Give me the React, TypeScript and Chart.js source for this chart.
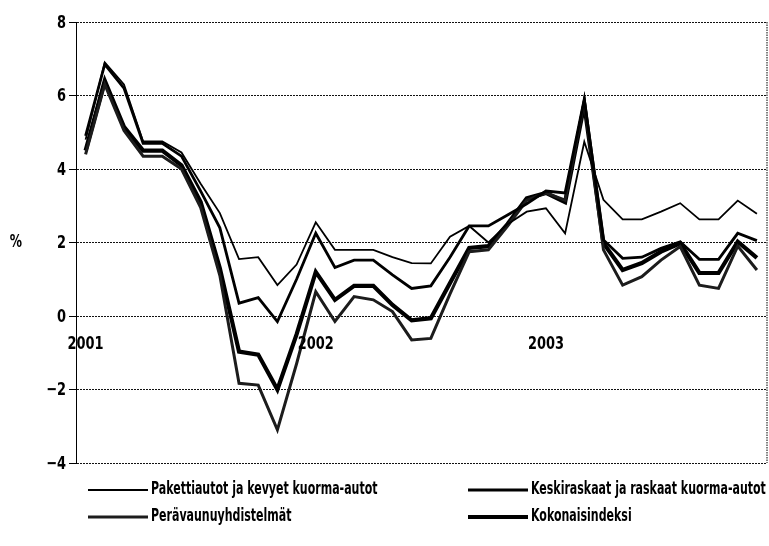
import React, { useEffect, useRef } from 'react';
import { Chart, registerables } from 'chart.js';

Chart.register(...registerables);

const FONT = "'DejaVu Sans Condensed', 'DejaVu Sans', sans-serif";

const years = ['2001', '2002', '2003'];
const monthNumbers = ['01', '02', '03', '04', '05', '06', '07', '08', '09', '10', '11', '12'];
const categories = years.flatMap((y) => monthNumbers.map((m) => `${y}-${m}`));

const yTicks = [-4, -2, 0, 2, 4, 6, 8];

const seriesNames = [
  'Pakettiautot ja kevyet kuorma-autot',
  'Keskiraskaat ja raskaat kuorma-autot',
  'Perävaunuyhdistelmät',
  'Kokonaisindeksi',
];

const pakettiautot = [4.8, 6.9, 6.3, 4.75, 4.75, 4.45, 3.6, 2.8, 1.55, 1.6, 0.84, 1.4, 2.55, 1.8, 1.8, 1.8, 1.6, 1.44, 1.43, 2.16, 2.45, 2.0, 2.5, 2.84, 2.93, 2.25, 4.74, 3.16, 2.63, 2.63, 2.84, 3.07, 2.63, 2.63, 3.14, 2.78];
const keskiraskaat = [4.9, 6.85, 6.2, 4.7, 4.7, 4.35, 3.4, 2.4, 0.35, 0.5, -0.15, 1.0, 2.25, 1.32, 1.52, 1.52, 1.12, 0.75, 0.82, 1.6, 2.45, 2.45, 2.75, 3.05, 3.4, 3.35, 5.9, 2.07, 1.57, 1.6, 1.84, 2.02, 1.54, 1.54, 2.25, 2.05];
const peravaunut = [4.4, 6.3, 5.05, 4.35, 4.35, 4.0, 2.95, 1.1, -1.83, -1.88, -3.1, -1.3, 0.66, -0.15, 0.53, 0.44, 0.12, -0.65, -0.61, 0.6, 1.75, 1.8, 2.45, 3.15, 3.35, 3.15, 5.85, 1.8, 0.84, 1.07, 1.52, 1.89, 0.84, 0.75, 1.9, 1.25];
const kokonaisindeksi = [4.5, 6.4, 5.15, 4.5, 4.5, 4.1, 3.1, 1.3, -0.97, -1.05, -2.0, -0.5, 1.2, 0.44, 0.82, 0.82, 0.3, -0.12, -0.06, 0.9, 1.85, 1.9, 2.5, 3.2, 3.35, 3.1, 5.75, 1.98, 1.25, 1.44, 1.75, 1.98, 1.17, 1.17, 2.02, 1.58];

const seriesValues = [pakettiautot, keskiraskaat, peravaunut, kokonaisindeksi];
const lineColors = ['#000000', '#000000', '#1c1c1c', '#000000'];
const lineWidths = [1.8, 2.8, 3, 4.2];

function narrowText(
  ctx: CanvasRenderingContext2D,
  text: string,
  x: number,
  y: number,
  align: CanvasTextAlign,
  sx: number
) {
  ctx.save();
  ctx.translate(x, y);
  ctx.scale(sx, 1);
  ctx.textAlign = align;
  ctx.textBaseline = 'middle';
  ctx.fillText(text, 0, 0);
  ctx.restore();
}

const yLabel = (v: number) => (v < 0 ? '\u2212' + Math.abs(v) : String(v));

const decorPlugin = {
  id: 'decor',
  afterDraw(chart: any) {
    const ctx = chart.ctx as CanvasRenderingContext2D;
    const a = chart.chartArea;
    const xs = chart.scales.x;
    const ys = chart.scales.y;
    ctx.save();
    // right dotted border
    ctx.strokeStyle = '#000';
    ctx.lineWidth = 1;
    ctx.setLineDash([1.5, 1]);
    ctx.beginPath();
    ctx.moveTo(a.right + 0.5, a.top);
    ctx.lineTo(a.right + 0.5, a.bottom);
    ctx.stroke();
    ctx.setLineDash([]);
    ctx.fillStyle = '#000';
    // y tick labels
    ctx.font = `bold 18px ${FONT}`;
    ys.ticks.forEach((t: any) => {
      narrowText(ctx, yLabel(t.value), a.left - 10, ys.getPixelForValue(t.value) + 1, 'right', 0.8);
    });
    // x tick labels (years)
    const zeroY = ys.getPixelForValue(0);
    xs.ticks.forEach((_t: any, i: number) => {
      if (i % 12 === 0) {
        narrowText(ctx, years[i / 12], xs.getPixelForTick(i), zeroY + 28, 'center', 0.8);
      }
    });
    // unit label
    ctx.font = `bold 17px ${FONT}`;
    narrowText(ctx, '%', 16, (a.top + a.bottom) / 2, 'center', 0.8);
    // legend (2 x 2 grid)
    const cols = [88, 468];
    const rows = [490, 517];
    ctx.font = `bold 17px ${FONT}`;
    chart.data.datasets.forEach((ds: any, i: number) => {
      const x = cols[i % 2];
      const y = rows[Math.floor(i / 2)];
      ctx.strokeStyle = ds.borderColor;
      ctx.lineWidth = ds.borderWidth;
      ctx.beginPath();
      ctx.moveTo(x, y);
      ctx.lineTo(x + 60, y);
      ctx.stroke();
      ctx.fillStyle = '#000';
      narrowText(ctx, ds.label, x + 63, y, 'left', 0.72);
    });
    ctx.restore();
  },
};

export default function App() {
  const ref = useRef<HTMLCanvasElement | null>(null);
  useEffect(() => {
    if (!ref.current) return;
    const chart = new Chart(ref.current, {
      type: 'line',
      data: {
        labels: categories,
        datasets: seriesNames.map((name, i) => ({
          label: name,
          data: seriesValues[i],
          borderColor: lineColors[i],
          borderWidth: lineWidths[i],
          pointRadius: 0,
          tension: 0,
          fill: false,
        })),
      },
      options: {
        animation: false,
        responsive: false,
        maintainAspectRatio: false,
        layout: { padding: { left: 0, right: 2.5, top: 22, bottom: 83 } },
        plugins: {
          legend: { display: false },
          tooltip: { enabled: false },
        },
        scales: {
          x: {
            type: 'category',
            offset: true,
            position: { y: 0 } as any,
            grid: { display: false },
            border: { display: false },
            ticks: { display: false, autoSkip: false, maxRotation: 0 },
          },
          y: {
            min: yTicks[0],
            max: yTicks[yTicks.length - 1],
            afterFit: (scale: any) => {
              scale.width = 76;
            },
            afterBuildTicks: (scale: any) => {
              scale.ticks = yTicks.map((v) => ({ value: v }));
            },
            grid: {
              color: '#111',
              lineWidth: 1,
              drawTicks: true,
              tickLength: 7,
              tickColor: '#000',
            },
            border: { display: true, color: '#000', width: 1, dash: [2, 1] },
            ticks: { display: false },
          },
        },
      },
      plugins: [decorPlugin],
    });
    return () => chart.destroy();
  }, []);
  return (
    <div style={{ position: 'fixed', left: 0, top: 0, width: 769, height: 546, background: '#fff' }}>
      <canvas ref={ref} width={769} height={546} style={{ width: 769, height: 546, display: 'block' }} />
    </div>
  );
}
